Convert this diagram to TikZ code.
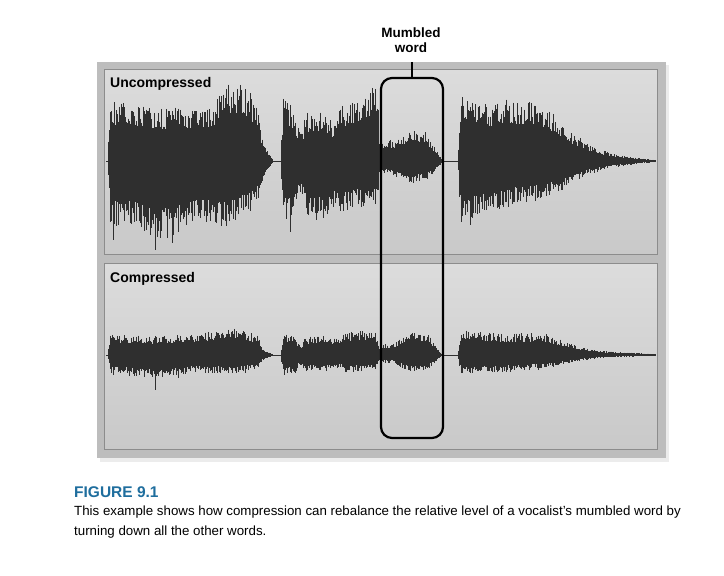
\documentclass[tikz,border=0pt]{standalone}
\usepackage{fontspec}
\setmainfont{Liberation Sans}
\definecolor{wavecol}{HTML}{2F2F2F}
\definecolor{outercol}{HTML}{BDBDBD}
\definecolor{innertop}{HTML}{DCDCDC}
\definecolor{innerbot}{HTML}{C9C9C9}
\definecolor{innerdraw}{HTML}{8C8C8C}
\definecolor{figblue}{HTML}{1F6E9E}
\tikzset{
  wave/.style={draw=wavecol, line width=0.75pt},
  outerpanel/.style={draw=none, fill=outercol, minimum width=569pt, minimum height=396pt, inner sep=0pt},
  innerpanel/.style={draw=innerdraw, line width=0.8pt, top color=innertop, bottom color=innerbot, minimum width=553pt, inner sep=0pt},
  panellabel/.style={font=\bfseries\fontsize{14}{16}\selectfont, inner sep=0pt, anchor=base west},
  markbox/.style={draw=black, line width=2.2pt, rounded corners=11pt, minimum width=62pt, minimum height=360pt, inner sep=0pt},
  captxt/.style={font=\fontsize{13.3}{16}\selectfont, inner sep=0pt, anchor=base west},
}
\def\nonestr{none}
\newcommand\wavepart[2]{%
  \gdef\wpx{none}%
  \foreach \X/\T/\B in {#2}{%
    \ifx\wpx\nonestr\else
      \pgfmathsetmacro\nseg{int(max(1,(\X-\wpx)/0.6))}%
      \foreach \i in {0,...,\nseg}{%
        \pgfmathsetmacro\tq{\i/\nseg}%
        \pgfmathsetmacro\xx{\wpx+(\X-\wpx)*\tq}%
        \pgfmathsetmacro\up{(\wpt+(\T-\wpt)*\tq)*(0.6+0.4*rnd^2)}%
        \pgfmathsetmacro\dn{(\wpb+(\B-\wpb)*\tq)*(0.6+0.4*rnd^2)}%
        \draw[wave] (\xx,{#1-\up}) -- (\xx,{#1+\dn});
      }%
    \fi
    \xdef\wpx{\X}\xdef\wpt{\T}\xdef\wpb{\B}%
  }%
}
\begin{document}
\begin{tikzpicture}[x=1pt,y=-1pt]
\useasboundingbox (0,0) rectangle (724,576);
\fill[white] (0,0) rectangle (724,576);
\pgfmathsetseed{4711}
% panels
\fill[gray!15] (100,65) rectangle (669,462);
\node[outerpanel] (frame) at (381.5,260) {};
\node[innerpanel, minimum height=185pt] (upper) at (380.5,161.5) {};
\node[innerpanel, minimum height=186pt] (lower) at (380.5,356) {};
\node[panellabel] (ulab) at (110,87) {Uncompressed};
\node[panellabel] (clab) at (110,282) {Compressed};
% centre lines
\draw[wavecol, line width=0.6pt] (106,161) -- (655,161);
\draw[wavecol, line width=0.6pt] (106,355) -- (655,355);
% upper waveform
\wavepart{161}{108/0/0, 110/60/66, 130/58/66, 150/54/76, 160/52/80, 180/54/72, 200/52/62, 215/60/66, 225/76/66, 240/80/58, 250/70/52, 258/54/40, 262/22/20, 272/3/3}
\wavepart{161}{281/2/2, 283/64/62, 290/58/58, 298/36/36, 302/27/32, 306/48/58, 325/50/60, 333/37/47, 340/54/52, 355/64/47, 370/74/47, 378/74/42, 380/5/5}
\wavepart{161}{382/21/13, 392/21/13, 400/24/19, 410/32/23, 425/30/21, 435/13/11, 442/2/2}
\wavepart{161}{458/2/2, 461/68/62, 475/64/58, 490/58/52, 505/62/48, 520/62/42, 540/58/40, 555/47/34, 570/30/23, 590/16/13, 610/8/7, 630/4/4, 655/1/1}
\draw[wave] (155,161) -- (155,250);
\draw[wave] (113,161) -- (113,240);
\draw[wave] (172,161) -- (172,243);
\draw[wave] (290,161) -- (290,232);
\draw[wave] (470,161) -- (470,225);
% lower waveform
\wavepart{355}{108/0/0, 110/21/19, 150/19/23, 200/21/18, 225/28/19, 245/26/18, 258/19/13, 263/6/5, 272/1/1}
\wavepart{355}{281/1/1, 283/23/21, 295/19/19, 300/10/10, 306/18/17, 328/21/17, 335/16/13, 345/23/17, 375/26/17, 380/3/3}
\wavepart{355}{382/11/8, 392/11/8, 400/16/13, 410/23/18, 428/23/16, 436/8/6, 442/1/1}
\wavepart{355}{458/1/1, 461/26/19, 480/23/18, 510/21/17, 540/23/15, 560/16/11, 580/8/6, 600/4/3, 655/1/1}
\draw[wave] (155,355) -- (155,390);
\draw[wave] (178,355) -- (178,378);
\draw[wave] (113,355) -- (113,375);
% mumbled word marker
\node[markbox] (box) at (412,258) {};
\node[font=\bfseries\fontsize{13.5}{15}\selectfont, align=center, inner sep=0pt, anchor=north] (mw) at (411,28) {Mumbled\\word};
\coordinate (tick) at (412,62);
\draw[line width=2.2pt] (box.north) -- (tick);
% caption
\node[font=\bfseries\fontsize{15.5}{18}\selectfont, text=figblue, inner sep=0pt, anchor=base west] (fig) at (74,497) {FIGURE 9.1};
\node[captxt] (cap1) at (74,515) {This example shows how compression can rebalance the relative level of a vocalist’s mumbled word by};
\node[captxt] (cap2) at (74,535) {turning down all the other words.};
\end{tikzpicture}
\end{document}
